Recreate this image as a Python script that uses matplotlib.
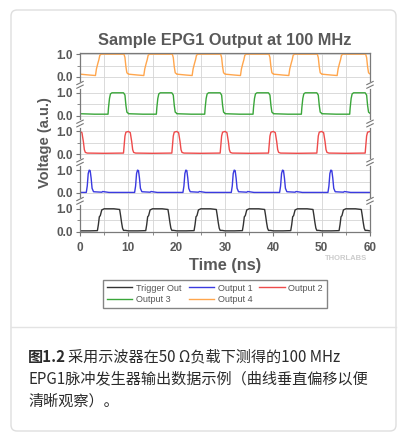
import numpy as np
import matplotlib.pyplot as plt
from matplotlib.patches import FancyBboxPatch
from matplotlib.lines import Line2D
from matplotlib.ticker import MultipleLocator, FixedLocator, FixedFormatter

# ------------------------ Dados ------------------------
# pulse start of each 10 ns period
period_starts = [0, 10, 20, 30, 40, 50]

# one period of each waveform (time inside the period in ns, voltage a.u.)
trig_t = [0.0, 2.0, 3.6, 3.8, 4.0, 4.2, 4.5, 5.0, 7.0, 8.2, 8.4, 8.6, 8.8, 9.0, 9.4, 10.0]
trig_v = [0.03, 0.03, 0.04, 0.30, 0.65, 0.70, 0.95, 1.0, 1.0, 0.97, 0.70, 0.40, 0.15, 0.05, 0.05, 0.03]

out1_t = [0.0, 1.3, 1.5, 1.7, 1.9, 2.1, 2.3, 2.5, 2.8, 4.5, 4.7, 6.0, 10.0]
out1_v = [0.02, 0.02, 0.30, 0.85, 1.0, 0.98, 0.65, 0.20, 0.05, 0.03, 0.06, 0.02, 0.02]

out2_t = [0.0, 0.4, 0.7, 0.9, 1.1, 1.5, 5.0, 9.0, 9.1, 9.3, 9.5, 10.0]
out2_v = [1.0, 0.95, 0.55, 0.20, 0.08, 0.05, 0.04, 0.05, 0.30, 0.80, 0.97, 1.0]

out3_t = [0.0, 3.0, 5.8, 5.9, 6.1, 6.3, 6.6, 9.0, 9.3, 9.5, 9.7, 10.0]
out3_v = [0.08, 0.06, 0.06, 0.35, 0.75, 0.95, 1.0, 1.0, 0.90, 0.45, 0.15, 0.10]

out4_t = [0.0, 2.0, 3.2, 3.4, 3.7, 3.9, 4.1, 4.4, 9.1, 9.3, 9.5, 9.7, 10.0]
out4_v = [0.12, 0.08, 0.06, 0.35, 0.60, 0.75, 0.95, 1.0, 1.0, 0.85, 0.45, 0.18, 0.13]

labels  = ['Trigger Out', 'Output 1', 'Output 2', 'Output 3', 'Output 4']
colors  = ['#333333', '#3a3ae0', '#ee4b4b', '#3aa63a', '#ffa64d']
offsets = [0.0, 1.7, 3.4, 5.1, 6.8]
shapes  = [(trig_t, trig_v), (out1_t, out1_v), (out2_t, out2_v),
           (out3_t, out3_v), (out4_t, out4_v)]

plt.rcParams['font.family'] = ['Liberation Sans', 'DejaVu Sans']
gray = '#595959'

# ------------------------ Figura ------------------------
fig = plt.figure(figsize=(4.04, 4.38), dpi=100)
fig.patch.set_facecolor('white')

# card frame (behind everything)
card = FancyBboxPatch((0.11, 0.07), 3.85, 4.21, boxstyle='round,pad=0,rounding_size=0.06',
                      transform=fig.dpi_scale_trans, facecolor='white',
                      edgecolor='#dedede', linewidth=1.0, zorder=-10)
fig.patches.append(card)
fig.lines.append(Line2D([0.11, 3.96], [4.38 - 3.27, 4.38 - 3.27], transform=fig.dpi_scale_trans,
                        color='#e3e3e3', linewidth=1.0, zorder=-9))

ax = fig.add_axes([80 / 404, 1 - 232 / 438, 290 / 404, 179 / 438])
ax.set_facecolor('none')

lines = []
for (tt, vv), off, c, lab in zip(shapes, offsets, colors, labels):
    t_all, v_all = [], []
    for p in period_starts:
        t_all += [p + t for t in tt]
        v_all += list(vv)
    ln, = ax.plot(np.array(t_all), np.array(v_all) + off, color=c, linewidth=1.0, label=lab)
    lines.append(ln)

ax.set_xlim(0, 60)
ax.set_ylim(-0.02, 7.85)

# ticks
ax.xaxis.set_major_locator(MultipleLocator(10))
ax.xaxis.set_minor_locator(MultipleLocator(5))
yt = []
ylab = []
for off in offsets:
    yt += [off, off + 1.0]
    ylab += ['0.0', '1.0']
ax.yaxis.set_major_locator(FixedLocator(yt))
ax.yaxis.set_major_formatter(FixedFormatter(ylab))
ax.yaxis.set_minor_locator(FixedLocator([off + 0.5 for off in offsets]))
ax.tick_params(axis='both', which='major', direction='out', length=3, width=0.8,
               color='#777777', labelsize=8.5, labelcolor=gray)
ax.tick_params(axis='x', which='major', pad=4)
ax.tick_params(axis='y', which='major', pad=2)
ax.tick_params(axis='both', which='minor', direction='out', length=2, width=0.6, color='#777777')
for lb in ax.get_xticklabels() + ax.get_yticklabels():
    lb.set_fontweight('bold')

ax.grid(which='both', color='#d4d4d4', linewidth=0.6)
ax.set_axisbelow(True)
for s in ax.spines.values():
    s.set_color('#7a7a7a')
    s.set_linewidth(0.9)

# axis break marks
for off in offsets[:-1]:
    yb = off + 1.35
    for xs in (0.0, 1.0):
        tr = ax.get_yaxis_transform()
        ax.plot([xs, xs], [yb - 0.09, yb + 0.09], color='white', linewidth=2.0,
                transform=tr, clip_on=False, zorder=5)
        for dy in (-0.08, 0.08):
            ax.plot([xs - 0.011, xs + 0.011], [yb + dy - 0.07, yb + dy + 0.07],
                    color='#777777', linewidth=0.8, transform=tr, clip_on=False, zorder=6)

ax.set_title('Sample EPG1 Output at 100 MHz', fontsize=11.8, fontweight='bold',
             color=gray, pad=6)
ax.set_xlabel('Time (ns)', fontsize=11.8, fontweight='bold', color=gray, labelpad=3)
ax.set_ylabel('Voltage (a.u.)', fontsize=10.5, fontweight='bold', color=gray, labelpad=3)

fig.text(346 / 404, 1 - 259 / 438, 'THORLABS', fontsize=5.5, fontweight='bold',
         color='#cccccc', ha='center', va='center')

# legend: row order Trigger Out, Output 1, Output 2 / Output 3, Output 4
order = [0, 3, 1, 4, 2]
leg = fig.legend([lines[i] for i in order], [labels[i] for i in order], ncol=3,
                 loc='center', bbox_to_anchor=(215 / 404, 1 - 294 / 438),
                 fontsize=6.5, frameon=True, fancybox=False, handlelength=2.8,
                 columnspacing=0.8, handletextpad=0.4, labelspacing=0.3,
                 borderpad=0.4)
leg.get_frame().set_edgecolor('#666666')
leg.get_frame().set_linewidth(1.0)
for txt in leg.get_texts():
    txt.set_color('#555555')

# ------------------------ Legenda (texto) ------------------------
cjk = ['Noto Sans CJK SC', 'DejaVu Sans']
fs = 10.9
fig.text(28 / 404, 1 - 357 / 438, '图1.2', fontsize=fs, fontweight='bold',
         color='#2b2b2b', family=cjk, va='center')
fig.text(68 / 404, 1 - 357 / 438, '采用示波器在50 Ω负载下测得的100 MHz', fontsize=fs,
         color='#2b2b2b', family=cjk, va='center')
fig.text(28 / 404, 1 - 379 / 438, 'EPG1脉冲发生器输出数据示例（曲线垂直偏移以便',
         fontsize=fs, color='#2b2b2b', family=cjk, va='center')
fig.text(28 / 404, 1 - 401 / 438, '清晰观察）。', fontsize=fs, color='#2b2b2b',
         family=cjk, va='center')

fig.savefig('out.png', dpi=100)
